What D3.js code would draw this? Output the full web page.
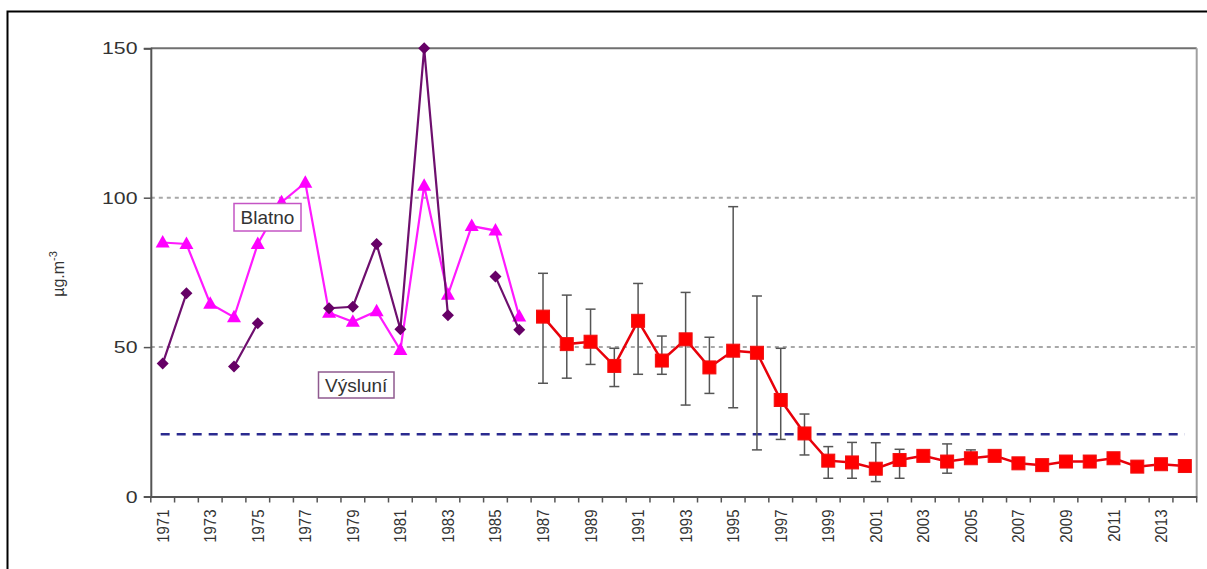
<!DOCTYPE html>
<html>
<head>
<meta charset="utf-8">
<script src="https://cdn.jsdelivr.net/npm/d3@7"></script>
<style>
  html, body { margin: 0; padding: 0; background: #fff; }
  svg { display: block; }
  text { font-family: "Liberation Sans", Arial, sans-serif; }
</style>
</head>
<body>
<svg id="chart" width="1207" height="569"></svg>
<script>
// ---- data ----
const years = [1971,1972,1973,1974,1975,1976,1977,1978,1979,1980,1981,1982,1983,1984,1985,1986,
  1987,1988,1989,1990,1991,1992,1993,1994,1995,1996,1997,1998,1999,2000,2001,2002,2003,2004,2005,
  2006,2007,2008,2009,2010,2011,2012,2013,2014];
const yTicks = [0, 50, 100, 150];
const xLabelYears = [1971,1973,1975,1977,1979,1981,1983,1985,1987,1989,1991,1993,1995,1997,1999,
  2001,2003,2005,2007,2009,2011,2013];

const blatnoYears = [1971,1972,1973,1974,1975,1976,1977,1978,1979,1980,1981,1982,1983,1984,1985,1986];
const blatnoValues = [85, 84.5, 64.5, 60, 84.5, 98.5, 105, 61.5, 58.5, 62, 49, 104, 67.5, 90.5, 89, 60.2];

const vysluniYears = blatnoYears;
const vysluniValues = [44.5, 68, null, 43.5, 58, null, null, 63, 63.5, 84.5, 56, 150, 60.7, null, 73.6, 55.8];

const redYears = [1987,1988,1989,1990,1991,1992,1993,1994,1995,1996,1997,1998,1999,2000,2001,2002,
  2003,2004,2005,2006,2007,2008,2009,2010,2011,2012,2013,2014];
const redValues = [60.2, 51, 51.8, 43.7, 58.8, 45.5, 52.6, 43.2, 48.8, 48.1, 32.3, 21.1, 12.0, 11.4,
  9.3, 12.2, 13.6, 11.7, 12.8, 13.6, 11.1, 10.5, 11.7, 11.7, 12.8, 10.0, 10.8, 10.2];
const redHigh = [74.7, 67.4, 62.7, 49.6, 71.3, 53.7, 68.3, 53.3, 97, 67.1, 49.6, 27.6, 16.7, 18.1,
  18.0, 15.8, null, 17.6, 15.6, null, null, null, null, null, null, null, null, null];
const redLow = [37.9, 39.6, 44.2, 36.8, 40.9, 40.9, 30.6, 34.5, 29.7, 15.6, 19.1, 13.9, 6.1, 6.1,
  5.0, 6.1, null, 7.8, 11.5, null, null, null, null, null, null, null, null, null];

const limitValue = 20.8;

// ---- layout ----
const svg = d3.select("#chart");
const pLeft = 150.8, pRight = 1196.7, pTop = 48.3, pBottom = 496.5;

const x = d3.scaleBand().domain(years).range([pLeft, pRight]).padding(0);
const y = d3.scaleLinear().domain([0, 150]).range([pBottom, pTop]);
const cx = d => x(d) + x.bandwidth() / 2;

// outer frame
svg.append("rect").attr("x", 7.5).attr("y", 11.5).attr("width", 1220).attr("height", 600)
  .attr("fill", "none").attr("stroke", "#000").attr("stroke-width", 2);

// gridlines (50, 100)
svg.append("g").selectAll("line").data(yTicks.filter(t => t > 0 && t < 150)).join("line")
  .attr("x1", pLeft).attr("x2", pRight).attr("y1", d => y(d)).attr("y2", d => y(d))
  .attr("stroke", "#a8a8a8").attr("stroke-width", 2).attr("stroke-dasharray", "4,4");

// plot border top/right
svg.append("line").attr("x1", pLeft).attr("x2", pRight).attr("y1", y(150)).attr("y2", y(150))
  .attr("stroke", "#707070").attr("stroke-width", 2);
svg.append("line").attr("x1", pRight).attr("x2", pRight).attr("y1", y(150)).attr("y2", pBottom)
  .attr("stroke", "#a0a0a0").attr("stroke-width", 2);

// limit line
svg.append("line").attr("x1", cx(years[0]) - 2).attr("x2", cx(years[years.length - 1]))
  .attr("y1", y(limitValue)).attr("y2", y(limitValue))
  .attr("stroke", "#2a2a8f").attr("stroke-width", 2.5).attr("stroke-dasharray", "9,7");

// y axis
const yAxis = d3.axisLeft(y).tickValues(yTicks).tickSize(7).tickFormat("");
const gy = svg.append("g").attr("transform", `translate(${pLeft},0)`).call(yAxis);
gy.select(".domain").attr("stroke", "#555").attr("stroke-width", 2);
gy.selectAll(".tick line").attr("stroke", "#555").attr("stroke-width", 1.5);
svg.append("g").selectAll("text").data(yTicks).join("text")
  .attr("transform", d => `translate(137.5,${y(d) + 6}) scale(1.25,1)`)
  .attr("text-anchor", "end").attr("font-size", 17).attr("fill", "#333")
  .text(d => d);

// x axis
const xAxis = d3.axisBottom(x).tickSize(0).tickFormat("");
const gx = svg.append("g").attr("transform", `translate(0,${pBottom})`).call(xAxis);
gx.select(".domain").attr("stroke", "#555").attr("stroke-width", 2);
// ticks at band boundaries
const boundaries = years.map(d => x(d)).concat([pRight]);
svg.append("g").selectAll("line").data(boundaries).join("line")
  .attr("x1", d => d).attr("x2", d => d).attr("y1", pBottom).attr("y2", pBottom + 6)
  .attr("stroke", "#555").attr("stroke-width", 1.5);
// x labels
svg.append("g").selectAll("text").data(xLabelYears).join("text")
  .attr("transform", d => `translate(${cx(d) + 6},${pBottom + 13}) scale(1.12,1) rotate(-90)`)
  .attr("text-anchor", "end").attr("font-size", 15).attr("fill", "#333")
  .text(d => d);

// y label
const yl = svg.append("text").attr("transform", "translate(64,274) rotate(-90)")
  .attr("text-anchor", "middle").attr("font-size", 16).attr("fill", "#333");
yl.append("tspan").text("µg.m");
yl.append("tspan").attr("dy", -7).attr("font-size", 11).text("-3");

// series
const blatno = blatnoYears.map((yr, i) => ({ yr, v: blatnoValues[i] }));
const vysluni = vysluniYears.map((yr, i) => ({ yr, v: vysluniValues[i] }));
const red = redYears.map((yr, i) => ({ yr, v: redValues[i], hi: redHigh[i], lo: redLow[i] }));

const line = d3.line().defined(d => d.v != null).x(d => cx(d.yr)).y(d => y(d.v));

svg.append("path").datum(blatno).attr("d", line).attr("fill", "none")
  .attr("stroke", "#ff1aff").attr("stroke-width", 2.2);
svg.append("g").selectAll("path").data(blatno).join("path")
  .attr("transform", d => `translate(${cx(d.yr)},${y(d.v)})`)
  .attr("d", "M0,-7.5L7,5L-7,5Z").attr("fill", "#ff00ff");

svg.append("path").datum(vysluni).attr("d", line).attr("fill", "none")
  .attr("stroke", "#6e0f6e").attr("stroke-width", 2.2);
svg.append("g").selectAll("path").data(vysluni.filter(d => d.v != null)).join("path")
  .attr("transform", d => `translate(${cx(d.yr)},${y(d.v)})`)
  .attr("d", "M0,-6L6,0L0,6L-6,0Z").attr("fill", "#660066");

// error bars
const eb = svg.append("g").attr("stroke", "#555").attr("stroke-width", 1.5);
const withErr = red.filter(d => d.hi != null);
eb.selectAll("line.v").data(withErr).join("line").attr("class", "v")
  .attr("x1", d => cx(d.yr)).attr("x2", d => cx(d.yr)).attr("y1", d => y(d.hi)).attr("y2", d => y(d.lo));
eb.selectAll("line.t").data(withErr).join("line").attr("class", "t")
  .attr("x1", d => cx(d.yr) - 5).attr("x2", d => cx(d.yr) + 5).attr("y1", d => y(d.hi)).attr("y2", d => y(d.hi));
eb.selectAll("line.b").data(withErr).join("line").attr("class", "b")
  .attr("x1", d => cx(d.yr) - 5).attr("x2", d => cx(d.yr) + 5).attr("y1", d => y(d.lo)).attr("y2", d => y(d.lo));

svg.append("path").datum(red).attr("d", line).attr("fill", "none")
  .attr("stroke", "#e8000a").attr("stroke-width", 2.5);
svg.append("g").selectAll("rect").data(red).join("rect")
  .attr("x", d => cx(d.yr) - 6.5).attr("y", d => y(d.v) - 6.5).attr("width", 13).attr("height", 13)
  .attr("fill", "#ff0000").attr("stroke", "#f01010").attr("stroke-width", 1);

// annotation boxes
function labelBox(text, bx, by, w, h, stroke) {
  svg.append("rect").attr("x", bx).attr("y", by).attr("width", w).attr("height", h)
    .attr("fill", "#fff").attr("stroke", stroke).attr("stroke-width", 1.5);
  svg.append("text").attr("x", bx + w / 2).attr("y", by + h / 2 + 7).attr("text-anchor", "middle")
    .attr("font-size", 19).attr("fill", "#333").text(text);
}
labelBox("Blatno", 234, 203.5, 67, 27.5, "#c455c4");
labelBox("Výsluní", 318.5, 372, 75.5, 26, "#8f5a8f");
</script>
</body>
</html>
